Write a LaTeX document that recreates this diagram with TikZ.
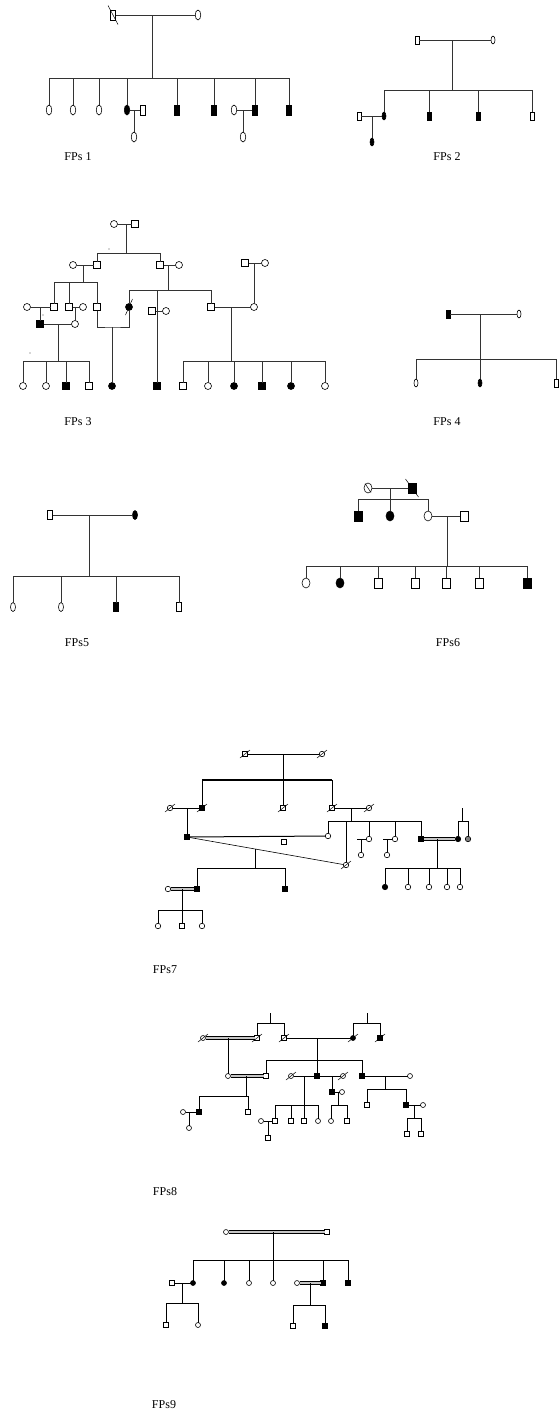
\documentclass[tikz,border=0pt]{standalone}
\usepackage{fontspec}
\setmainfont{Liberation Serif}
\usetikzlibrary{shapes.geometric,calc}
\newcommand\dslash[3]{\draw[sl] ($(#1)-(#2,#3)$) -- ($(#1)+(#2,#3)$);}
\newcommand\kid[4]{\node[#1] (#2) at (#3) {}; \draw[ln] (#2) -- (#2 |- #4);}
\tikzset{
 ln/.style={line width=0.8pt, draw=black!80},
 thk/.style={line width=1.5pt, draw=black},
 sl/.style={line width=0.5pt, draw=black},
 sym/.style={draw=black, line width=0.6pt, inner sep=0pt, outer sep=0pt},
 sq/.style={sym, rectangle, minimum width=\sw, minimum height=\sh},
 ci/.style={sym, ellipse, minimum width=\sw, minimum height=\sh},
 fsq/.style={sq, fill=black},
 fci/.style={ci, fill=black},
 gci/.style={ci, fill=gray},
 dbl/.style={line width=0.9pt, draw=black, double=gray!45, double distance=1.3pt},
 lbl/.style={font=\fontsize{12}{14}\selectfont, inner sep=0pt},
 dot/.style={fill=black!70},
}
\begin{document}
\begin{tikzpicture}[x=1pt,y=-1pt]
\useasboundingbox (0,0) rectangle (558,1411);

% ---------------- FPs 1
\begin{scope}
\def\sw{5.5pt}\def\sh{10pt}
\node[sq] (a1) at (113,15) {};
\dslash{a1}{5}{9.5}
\node[ci] (a2) at (198,15) {};
\draw[ln] (a1) -- (a2);
\coordinate (a1m) at (152,15);
\coordinate (a1s) at (152,78);
\draw[ln] (a1m) -- (a1s);
\coordinate (a1L) at (49,78);
\coordinate (a1R) at (289,78);
\draw[ln] (a1L) -- (a1R);
\kid{ci}{a1c1}{49,110}{a1s}
\kid{ci}{a1c2}{73,110}{a1s}
\kid{ci}{a1c3}{99,110}{a1s}
\kid{fci}{a1c4}{127,110}{a1s}
\node[sq] (a1p4) at (143,110) {};
\draw[ln] (a1c4) -- (a1p4);
\coordinate (a1m4) at (134,110);
\node[ci] (a1g4) at (134,137) {};
\draw[ln] (a1m4) -- (a1g4);
\kid{fsq}{a1c5}{177,110}{a1s}
\kid{fsq}{a1c6}{214,110}{a1s}
\kid{fsq}{a1c7}{255,110}{a1s}
\node[ci] (a1p7) at (234,110) {};
\draw[ln] (a1p7) -- (a1c7);
\coordinate (a1m7) at (243,110);
\node[ci] (a1g7) at (243,137) {};
\draw[ln] (a1m7) -- (a1g7);
\kid{fsq}{a1c8}{289,110}{a1s}
\node[lbl] (a1l) at (78,157) {FPs 1};
\end{scope}

% ---------------- FPs 2
\begin{scope}
\def\sw{4pt}\def\sh{8pt}
\node[sq] (b1) at (417,40) {};
\node[ci] (b2) at (493,40) {};
\draw[ln] (b1) -- (b2);
\coordinate (b1m) at (452,40);
\coordinate (b1s) at (452,90);
\draw[ln] (b1m) -- (b1s);
\coordinate (b1L) at (384,90);
\coordinate (b1R) at (532,90);
\draw[ln] (b1L) -- (b1R);
\kid{fci}{b1c1}{384,116}{b1s}
\kid{fsq}{b1c2}{429,116}{b1s}
\kid{fsq}{b1c3}{478,116}{b1s}
\kid{sq}{b1c4}{532,116}{b1s}
\node[sq] (b1p1) at (359,116) {};
\draw[ln] (b1p1) -- (b1c1);
\coordinate (b1m1) at (372,116);
\node[fci] (b1g1) at (372,142) {};
\draw[ln] (b1m1) -- (b1g1);
\node[lbl] (b1l) at (447,157) {FPs 2};
\end{scope}

% ---------------- FPs 3
\begin{scope}
\def\sw{7pt}\def\sh{7pt}
\node[ci] (c1) at (114,224) {};
\node[sq] (c2) at (135,224) {};
\draw[ln] (c1) -- (c2);
\coordinate (c1m) at (126,224);
\coordinate (c1s) at (126,253);
\draw[ln] (c1m) -- (c1s);
\coordinate (c1L) at (97,253);
\coordinate (c1R) at (160,253);
\draw[ln] (c1L) -- (c1R);
\kid{sq}{c3}{97,265}{c1s}
\kid{sq}{c5}{160,265}{c1s}
\node[ci] (c4) at (73,265) {};
\draw[ln] (c4) -- (c3);
\coordinate (c3m) at (83,265);
\coordinate (c3s) at (83,282);
\draw[ln] (c3m) -- (c3s);
\coordinate (c3L) at (54,282);
\coordinate (c3R) at (97,282);
\draw[ln] (c3L) -- (c3R);
\kid{sq}{c7}{54,307}{c3s}
\kid{sq}{c8}{69,307}{c3s}
\kid{sq}{c3b}{97,307}{c3s}
\node[ci] (c9) at (27,307) {};
\draw[ln] (c9) -- (c7);
\coordinate (c7m) at (40,307);
\node[fsq] (c11) at (40,324) {};
\draw[ln] (c7m) -- (c11);
\node[ci] (c10) at (83,307) {};
\draw[ln] (c8) -- (c10);
\coordinate (c8m) at (75,307);
\node[ci] (c12) at (75,324) {};
\draw[ln] (c8m) -- (c12);
\draw[ln] (c11) -- (c12);
\coordinate (c11m) at (58,324);
\coordinate (c11s) at (58,361);
\draw[ln] (c11m) -- (c11s);
\coordinate (c11L) at (23,361);
\coordinate (c11R) at (89,361);
\draw[ln] (c11L) -- (c11R);
\kid{ci}{c20}{23,386}{c11s}
\kid{ci}{c21}{46,386}{c11s}
\kid{fsq}{c22}{66,386}{c11s}
\kid{sq}{c23}{89,386}{c11s}
% second couple of generation II
\node[ci] (c6) at (179,265) {};
\draw[ln] (c5) -- (c6);
\coordinate (c5m) at (168,265);
\coordinate (c5s) at (168,290);
\draw[ln] (c5m) -- (c5s);
\coordinate (c5L) at (129,290);
\coordinate (c5R) at (211,290);
\draw[ln] (c5L) -- (c5R);
\kid{fci}{c13}{129,307}{c5s}
\dslash{c13}{3.5}{-8}
\kid{sq}{c14}{211,307}{c5s}
\coordinate (c3u) at (112,327);
\draw[ln] (c3b) |- (c3u) -| (c13);
\node[fci] (c3g) at (112,386) {};
\draw[ln] (c3u) -- (c3g);
\coordinate (c5v) at (157,290);
\node[fsq] (c5g) at (157,386) {};
\draw[ln] (c5v) -- (c5g);
\node[sq] (c18) at (152,311) {};
\node[ci] (c19) at (166,311) {};
\draw[ln] (c18) -- (c19);
\node[sq] (c16) at (245,263) {};
\node[ci] (c17) at (265,263) {};
\draw[ln] (c16) -- (c17);
\coordinate (c16m) at (254,263);
\node[ci] (c15) at (254,307) {};
\draw[ln] (c16m) -- (c15);
\draw[ln] (c14) -- (c15);
\coordinate (c14m) at (231,307);
\coordinate (c14s) at (231,361);
\draw[ln] (c14m) -- (c14s);
\coordinate (c14L) at (183,361);
\coordinate (c14R) at (325,361);
\draw[ln] (c14L) -- (c14R);
\kid{sq}{c30}{183,386}{c14s}
\kid{ci}{c31}{208,386}{c14s}
\kid{fci}{c32}{234,386}{c14s}
\kid{fsq}{c33}{262,386}{c14s}
\kid{fci}{c34}{291,386}{c14s}
\kid{ci}{c35}{325,386}{c14s}
\fill[dot] (109,249) circle (0.6);
\fill[dot] (43,315) circle (0.6);
\fill[dot] (30,353) circle (0.6);
\node[lbl] (c1l) at (78,422) {FPs 3};
\end{scope}

% ---------------- FPs 4
\begin{scope}
\def\sw{4pt}\def\sh{8pt}
\node[fsq] (d1) at (448,314) {};
\node[ci] (d2) at (519,314) {};
\draw[ln] (d1) -- (d2);
\coordinate (d1m) at (480,314);
\coordinate (d1s) at (480,359);
\draw[ln] (d1m) -- (d1s);
\coordinate (d1L) at (416,359);
\coordinate (d1R) at (556,359);
\draw[ln] (d1L) -- (d1R);
\kid{ci}{d1c1}{416,383}{d1s}
\kid{fci}{d1c2}{480,383}{d1s}
\kid{sq}{d1c3}{556,383}{d1s}
\node[lbl] (d1l) at (447,422) {FPs 4};
\end{scope}

% ---------------- FPs 5
\begin{scope}
\def\sw{5pt}\def\sh{9pt}
\node[sq] (e1) at (50,515) {};
\node[fci] (e2) at (135,515) {};
\draw[ln] (e1) -- (e2);
\coordinate (e1m) at (89,515);
\coordinate (e1s) at (89,576);
\draw[ln] (e1m) -- (e1s);
\coordinate (e1L) at (13,576);
\coordinate (e1R) at (179,576);
\draw[ln] (e1L) -- (e1R);
\kid{ci}{e1c1}{13,607}{e1s}
\kid{ci}{e1c2}{61,607}{e1s}
\kid{fsq}{e1c3}{116,607}{e1s}
\kid{sq}{e1c4}{179,607}{e1s}
\node[lbl] (e1l) at (77,643) {FPs5};
\end{scope}

% ---------------- FPs 6
\begin{scope}
\def\sw{8pt}\def\sh{10pt}
\node[ci] (f1) at (368,488) {};
\dslash{f1}{3}{4.5}
\node[fsq] (f2) at (412,488) {};
\dslash{f2}{6.5}{9}
\draw[ln] (f1) -- (f2);
\coordinate (f1m) at (390,488);
\coordinate (f1s) at (390,499);
\draw[ln] (f1m) -- (f1s);
\coordinate (f1L) at (358,499);
\coordinate (f1R) at (428,499);
\draw[ln] (f1L) -- (f1R);
\kid{fsq}{f3}{358,516}{f1s}
\kid{fci}{f4}{390,516}{f1s}
\kid{ci}{f5}{428,516}{f1s}
\node[sq] (f6) at (464,516) {};
\draw[ln] (f5) -- (f6);
\coordinate (f5m) at (447,516);
\coordinate (f5s) at (447,566);
\draw[ln] (f5m) -- (f5s);
\coordinate (f5L) at (306,566);
\coordinate (f5R) at (527,566);
\draw[ln] (f5L) -- (f5R);
\kid{ci}{f7}{306,583}{f5s}
\kid{fci}{f8}{340,583}{f5s}
\kid{sq}{f9}{378,583}{f5s}
\kid{sq}{f10}{415,583}{f5s}
\kid{sq}{f11}{446,583}{f5s}
\kid{sq}{f12}{479,583}{f5s}
\kid{fsq}{f13}{527,583}{f5s}
\node[lbl] (f1l) at (448,643) {FPs6};
\end{scope}

% ---------------- FPs 7
\begin{scope}[ln/.style={line width=1pt, draw=black}]
\def\sw{5.5pt}\def\sh{5.5pt}
\node[sq] (g1) at (245,754) {};
\dslash{g1}{5}{-4}
\node[ci] (g2) at (322,754) {};
\dslash{g2}{5}{-4}
\draw[ln] (g1) -- (g2);
\coordinate (g1m) at (283,754);
\coordinate (g1s) at (283,780);
\draw[ln] (g1m) -- (g1s);
\coordinate (g1L) at (202,780);
\coordinate (g1R) at (332,780);
\draw[thk] (g1L) -- (g1R);
\kid{fsq}{g3}{202,808}{g1s}
\dslash{g3}{5}{-4}
\kid{sq}{g4}{283,808}{g1s}
\dslash{g4}{5}{-4}
\kid{sq}{g5}{332,808}{g1s}
\dslash{g5}{5}{-4}
\node[ci] (g6) at (170,808) {};
\dslash{g6}{5}{-4}
\draw[ln] (g6) -- (g3);
\coordinate (g6m) at (187,808);
\node[fsq] (g7) at (187,837) {};
\draw[ln] (g6m) -- (g7);
\node[ci] (g8) at (369,808) {};
\dslash{g8}{5}{-4}
\draw[ln] (g5) -- (g8);
\coordinate (g5m) at (351,808);
\coordinate (g5s) at (351,821);
\draw[ln] (g5m) -- (g5s);
\coordinate (g5L) at (328,821);
\coordinate (g5R) at (421,821);
\draw[ln] (g5L) -- (g5R);
\kid{ci}{g9}{328,836}{g5s}
\node[ci] (g10) at (346,865) {};
\dslash{g10}{5}{-4}
\coordinate (g5v) at (346,821);
\draw[ln] (g5v) -- (g10);
\kid{ci}{g11}{369,839}{g5s}
\coordinate (g11a) at (357,839);
\draw[ln] (g11a) -- (g11);
\coordinate (g11m) at (361,839);
\node[ci] (g14) at (361,855) {};
\draw[ln] (g11m) -- (g14);
\kid{ci}{g12}{395,839}{g5s}
\coordinate (g12a) at (383,839);
\draw[ln] (g12a) -- (g12);
\coordinate (g12m) at (387,839);
\node[ci] (g15) at (387,855) {};
\draw[ln] (g12m) -- (g15);
\kid{fsq}{g13}{421,839}{g5s}
\node[fci] (g16) at (458,839) {};
\node[gci] (g17) at (468,839) {};
\coordinate (g16t) at (462,808);
\coordinate (g16s) at (462,821);
\draw[ln] (g16t) -- (g16s);
\coordinate (g16L) at (458,821);
\coordinate (g16R) at (468,821);
\draw[ln] (g16L) -- (g16R);
\draw[ln] (g16) -- (g16 |- g16s);
\draw[ln] (g17) -- (g17 |- g16s);
\draw[dbl] (g13) -- (g16);
\coordinate (g13m) at (437,839);
\coordinate (g13s) at (437,868);
\draw[ln] (g13m) -- (g13s);
\coordinate (g13L) at (385,868);
\coordinate (g13R) at (460,868);
\draw[ln] (g13L) -- (g13R);
\kid{fci}{g30}{385,887}{g13s}
\kid{ci}{g31}{408,887}{g13s}
\kid{ci}{g32}{429,887}{g13s}
\kid{ci}{g33}{447,887}{g13s}
\kid{ci}{g34}{460,887}{g13s}
\draw[ln] (g7) -- (g9);
\node[sq] (g18) at (284,842) {};
\draw[line width=0.6pt] (g7) -- (g10);
\coordinate (g7m) at ($(g7)!0.43!(g10)$);
\coordinate (g7s) at (255,868);
\draw[ln] (g7m) -- (g7m |- g7s);
\coordinate (g7L) at (197,868);
\coordinate (g7R) at (285,868);
\draw[ln] (g7L) -- (g7R);
\kid{fsq}{g19}{197,889}{g7s}
\kid{fsq}{g20}{285,889}{g7s}
\node[ci] (g21) at (168,889) {};
\draw[dbl] (g21) -- (g19);
\coordinate (g21m) at (182,889);
\coordinate (g21s) at (182,910);
\draw[ln] (g21m) -- (g21s);
\coordinate (g21L) at (158,910);
\coordinate (g21R) at (202,910);
\draw[ln] (g21L) -- (g21R);
\kid{ci}{g40}{158,926}{g21s}
\kid{sq}{g41}{182,926}{g21s}
\kid{ci}{g42}{202,926}{g21s}
\node[lbl] (g1l) at (165,970) {FPs7};
\end{scope}

% ---------------- FPs 8
\begin{scope}[ln/.style={line width=1pt, draw=black}]
\def\sw{5pt}\def\sh{5pt}
\coordinate (h0t) at (270,1013);
\coordinate (h0s) at (270,1023);
\draw[ln] (h0t) -- (h0s);
\coordinate (h0L) at (257,1023);
\coordinate (h0R) at (284,1023);
\draw[ln] (h0L) -- (h0R);
\kid{sq}{h1}{257,1038}{h0s}
\dslash{h1}{5}{-4}
\kid{sq}{h2}{284,1038}{h0s}
\dslash{h2}{5}{-4}
\node[ci] (h3) at (203,1038) {};
\dslash{h3}{5}{-4}
\draw[dbl] (h3) -- (h1);
\coordinate (h3m) at (228,1038);
\node[ci] (h4) at (228,1076) {};
\draw[ln] (h3m) -- (h4);
\coordinate (hrt) at (367,1013);
\coordinate (hrs) at (367,1023);
\draw[ln] (hrt) -- (hrs);
\coordinate (hrL) at (353,1023);
\coordinate (hrR) at (380,1023);
\draw[ln] (hrL) -- (hrR);
\kid{fci}{h10}{353,1038}{hrs}
\dslash{h10}{5}{-4}
\kid{fsq}{h20}{380,1038}{hrs}
\dslash{h20}{5}{-4}
\draw[ln] (h2) -- (h10);
\coordinate (h2m) at (317,1038);
\coordinate (h2s) at (317,1060);
\draw[ln] (h2m) -- (h2s);
\coordinate (h2L) at (266,1060);
\coordinate (h2R) at (362,1060);
\draw[ln] (h2L) -- (h2R);
\kid{sq}{h5}{266,1076}{h2s}
\kid{fsq}{h11}{317,1076}{h2s}
\kid{fsq}{h12}{362,1076}{h2s}
\draw[dbl] (h4) -- (h5);
\coordinate (h4m) at (246,1076);
\coordinate (h4s) at (246,1096);
\draw[ln] (h4m) -- (h4s);
\coordinate (h4L) at (199,1096);
\coordinate (h4R) at (248,1096);
\draw[ln] (h4L) -- (h4R);
\kid{fsq}{h6}{199,1112}{h4s}
\kid{sq}{h7}{248,1112}{h4s}
\node[ci] (h8) at (183,1112) {};
\draw[ln] (h8) -- (h6);
\coordinate (h8m) at (189,1112);
\node[ci] (h9) at (189,1128) {};
\draw[ln] (h8m) -- (h9);
\node[ci] (h13) at (291,1076) {};
\dslash{h13}{5}{-4}
\node[ci] (h14) at (343,1076) {};
\dslash{h14}{5}{-4}
\draw[ln] (h13) -- (h11);
\draw[ln] (h11) -- (h14);
\coordinate (h13m) at (304,1076);
\coordinate (h13s) at (304,1105);
\draw[ln] (h13m) -- (h13s);
\coordinate (h13L) at (275,1105);
\coordinate (h13R) at (318,1105);
\draw[ln] (h13L) -- (h13R);
\kid{sq}{h16}{275,1121}{h13s}
\kid{sq}{h24}{291,1121}{h13s}
\kid{sq}{h25}{304,1121}{h13s}
\kid{ci}{h26}{318,1121}{h13s}
\node[ci] (h17) at (261,1121) {};
\draw[ln] (h17) -- (h16);
\coordinate (h17m) at (268,1121);
\node[sq] (h18) at (268,1138) {};
\draw[ln] (h17m) -- (h18);
\coordinate (h14m) at (332,1076);
\node[fsq] (h15) at (332,1092) {};
\draw[ln] (h14m) -- (h15);
\node[ci] (h19) at (342,1092) {};
\draw[ln] (h15) -- (h19);
\coordinate (h15m) at (338,1092);
\coordinate (h15s) at (338,1105);
\draw[ln] (h15m) -- (h15s);
\coordinate (h15L) at (331,1105);
\coordinate (h15R) at (347,1105);
\draw[ln] (h15L) -- (h15R);
\kid{ci}{h27}{331,1121}{h15s}
\kid{sq}{h28}{347,1121}{h15s}
\node[ci] (h21) at (410,1076) {};
\draw[ln] (h12) -- (h21);
\coordinate (h12m) at (385,1076);
\coordinate (h12s) at (385,1089);
\draw[ln] (h12m) -- (h12s);
\coordinate (h12L) at (367,1089);
\coordinate (h12R) at (406,1089);
\draw[ln] (h12L) -- (h12R);
\kid{sq}{h29}{367,1105}{h12s}
\kid{fsq}{h22}{406,1105}{h12s}
\node[ci] (h23) at (423,1105) {};
\draw[ln] (h22) -- (h23);
\coordinate (h22m) at (414,1105);
\coordinate (h22s) at (414,1118);
\draw[ln] (h22m) -- (h22s);
\coordinate (h22L) at (407,1118);
\coordinate (h22R) at (421,1118);
\draw[ln] (h22L) -- (h22R);
\kid{sq}{h31}{407,1134}{h22s}
\kid{sq}{h32}{421,1134}{h22s}
\node[lbl] (h1l) at (165,1192) {FPs8};
\end{scope}

% ---------------- FPs 9
\begin{scope}[ln/.style={line width=1pt, draw=black}]
\def\sw{5pt}\def\sh{5pt}
\node[ci] (i1) at (226,1232) {};
\node[sq] (i2) at (327,1232) {};
\draw[dbl] (i1) -- (i2);
\coordinate (i1m) at (273,1232);
\coordinate (i1s) at (273,1260);
\draw[ln] (i1m) -- (i1s);
\coordinate (i1L) at (193,1260);
\coordinate (i1R) at (348,1260);
\draw[ln] (i1L) -- (i1R);
\kid{fci}{i5}{193,1283}{i1s}
\kid{fci}{i6}{224,1283}{i1s}
\kid{ci}{i7}{249,1283}{i1s}
\kid{ci}{i8}{273,1283}{i1s}
\kid{fsq}{i9}{323,1283}{i1s}
\kid{fsq}{i10}{348,1283}{i1s}
\node[sq] (i3) at (172,1283) {};
\draw[ln] (i3) -- (i5);
\coordinate (i3m) at (182,1283);
\coordinate (i3s) at (182,1303);
\draw[ln] (i3m) -- (i3s);
\coordinate (i3L) at (166,1303);
\coordinate (i3R) at (198,1303);
\draw[ln] (i3L) -- (i3R);
\kid{sq}{i11}{166,1325}{i3s}
\kid{ci}{i12}{198,1325}{i3s}
\node[ci] (i4) at (297,1283) {};
\draw[dbl] (i4) -- (i9);
\coordinate (i4m) at (310,1283);
\coordinate (i4s) at (310,1305);
\draw[ln] (i4m) -- (i4s);
\coordinate (i4L) at (293,1305);
\coordinate (i4R) at (325,1305);
\draw[ln] (i4L) -- (i4R);
\kid{sq}{i13}{293,1326}{i4s}
\kid{fsq}{i14}{325,1326}{i4s}
\node[lbl] (i1l) at (164,1405) {FPs9};
\end{scope}
\end{tikzpicture}
\end{document}
